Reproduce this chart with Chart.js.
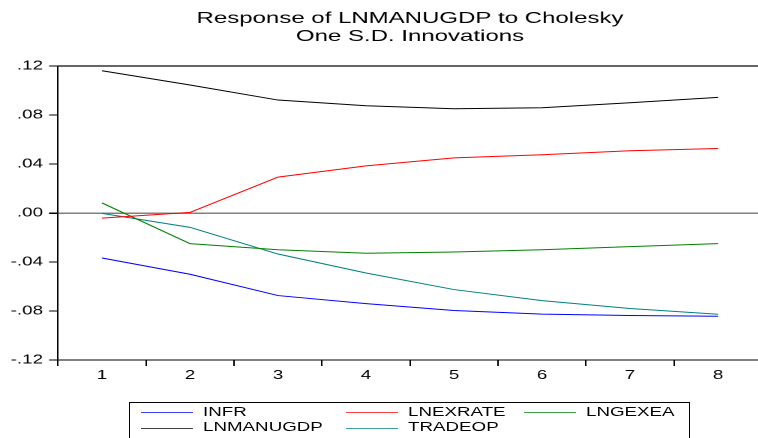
<!DOCTYPE html>
<html>
<head>
<meta charset="utf-8">
<script src="https://cdn.jsdelivr.net/npm/chart.js@4"></script>
<style>
  html, body { margin: 0; padding: 0; background: #fff; overflow: hidden; }
  #wrap { position: relative; width: 758px; height: 438px; overflow: hidden; background: #fff; }
  #c { position: absolute; left: 0; top: 0; transform: scaleX(1.5); transform-origin: 0 0; }
  #legend { position: absolute; left: 129px; top: 402px; width: 559px; height: 50px; border: 1px solid #000; box-sizing: content-box; }
  .lg-line { position: absolute; height: 1px; width: 52px; opacity: 0.75; }
  .lg-text { position: absolute; font: 12.5px "Liberation Sans", Arial, sans-serif; line-height: 14px; color: #000; white-space: nowrap; transform: scaleX(1.5); transform-origin: 0 50%; }
</style>
</head>
<body>
<div id="wrap">
  <canvas id="c" width="508" height="438"></canvas>
  <div id="legend"></div>
</div>
<script>
// ---- data ----
const periods = ['1', '2', '3', '4', '5', '6', '7', '8'];
const seriesNames = ['INFR', 'LNEXRATE', 'LNGEXEA', 'LNMANUGDP', 'TRADEOP'];
const INFR      = [-0.0367, -0.0500, -0.0674, -0.0740, -0.0796, -0.0826, -0.0837, -0.0843];
const LNEXRATE  = [-0.0042,  0.0005,  0.0293,  0.0385,  0.0450,  0.0476,  0.0508,  0.0527];
const LNGEXEA   = [ 0.0082, -0.0250, -0.0300, -0.0329, -0.0318, -0.0300, -0.0274, -0.0250];
const LNMANUGDP = [ 0.1161,  0.1045,  0.0922,  0.0876,  0.0851,  0.0859,  0.0900,  0.0944];
const TRADEOP   = [-0.0003, -0.0117, -0.0335, -0.0490, -0.0625, -0.0715, -0.0780, -0.0827];
const yTickValues = [-0.12, -0.08, -0.04, 0.00, 0.04, 0.08, 0.12];
const titleLines = ['Response of LNMANUGDP to Cholesky', 'One S.D. Innovations'];

// ---- styles ----
const seriesValues = [INFR, LNEXRATE, LNGEXEA, LNMANUGDP, TRADEOP];
const seriesColors = ['#0000ff', '#ff0000', '#008000', '#000000', '#008080'];
const FONT = '"Liberation Sans", Arial, sans-serif';

function fmtTick(v) {
  if (Math.abs(v) < 1e-9) return '.00';
  const s = Math.abs(v).toFixed(2).replace(/^0/, '');
  return (v < 0 ? '-' : '') + s;
}

const frame = {
  id: 'frame',
  afterDraw(chart) {
    const a = chart.chartArea, ctx = chart.ctx;
    ctx.save();
    ctx.strokeStyle = '#333';
    ctx.lineWidth = 1.5;
    ctx.beginPath();
    ctx.moveTo(a.left, a.top);
    ctx.lineTo(a.right, a.top);
    ctx.stroke();
    ctx.restore();
  }
};

new Chart(document.getElementById('c'), {
  type: 'line',
  data: {
    labels: periods,
    datasets: seriesNames.map((n, i) => ({
      label: n,
      data: seriesValues[i],
      borderColor: seriesColors[i],
      backgroundColor: seriesColors[i],
      borderWidth: 1,
      pointRadius: 0,
      tension: 0,
      fill: false
    }))
  },
  options: {
    responsive: false,
    animation: false,
    devicePixelRatio: 2,
    layout: { padding: 0 },
    plugins: {
      legend: { display: false },
      tooltip: { enabled: false },
      title: {
        display: true,
        text: titleLines,
        fullSize: false,
        color: '#000',
        font: { family: FONT, size: 16, weight: 'normal', lineHeight: 1.1 },
        padding: { top: 10, bottom: 20.8 }
      }
    },
    scales: {
      x: {
        type: 'category',
        offset: true,
        grid: { offset: true, drawOnChartArea: false, drawTicks: true, tickLength: 6, tickColor: '#000' },
        border: { display: true, color: '#000', width: 1 },
        ticks: { color: '#000', padding: 2, font: { family: FONT, size: 12.5 }, maxRotation: 0, autoSkip: false },
        afterFit(scale) { scale.height = 78; }
      },
      y: {
        min: -0.12,
        max: 0.12,
        afterBuildTicks(scale) { scale.ticks = yTickValues.map(v => ({ value: v })); },
        grid: {
          drawTicks: true,
          tickLength: 6,
          tickColor: '#000',
          color: (c) => (c.tick && Math.abs(c.tick.value) < 1e-9 ? '#808080' : 'rgba(0,0,0,0)'),
          lineWidth: (c) => (c.tick && Math.abs(c.tick.value) < 1e-9 ? 1.5 : 1)
        },
        border: { display: true, color: '#000', width: 1 },
        ticks: { color: '#000', padding: 4, font: { family: FONT, size: 12.5 }, callback: (v) => fmtTick(v) },
        afterFit(scale) { scale.width = 38.67; }
      }
    }
  },
  plugins: [frame]
});

// ---- legend (HTML, built from the same arrays) ----
const legend = document.getElementById('legend');
const colLine = [11, 216, 394];
const colText = [73, 278, 456];
const rowLine = [9, 25];
const rowText = [1.5, 16.8];
seriesNames.forEach((n, i) => {
  const col = i % 3, row = Math.floor(i / 3);
  const ln = document.createElement('div');
  ln.className = 'lg-line';
  ln.style.left = colLine[col] + 'px';
  ln.style.top = rowLine[row] + 'px';
  ln.style.background = seriesColors[i];
  legend.appendChild(ln);
  const tx = document.createElement('div');
  tx.className = 'lg-text';
  tx.style.left = colText[col] + 'px';
  tx.style.top = rowText[row] + 'px';
  tx.textContent = n;
  legend.appendChild(tx);
});
</script>
</body>
</html>
